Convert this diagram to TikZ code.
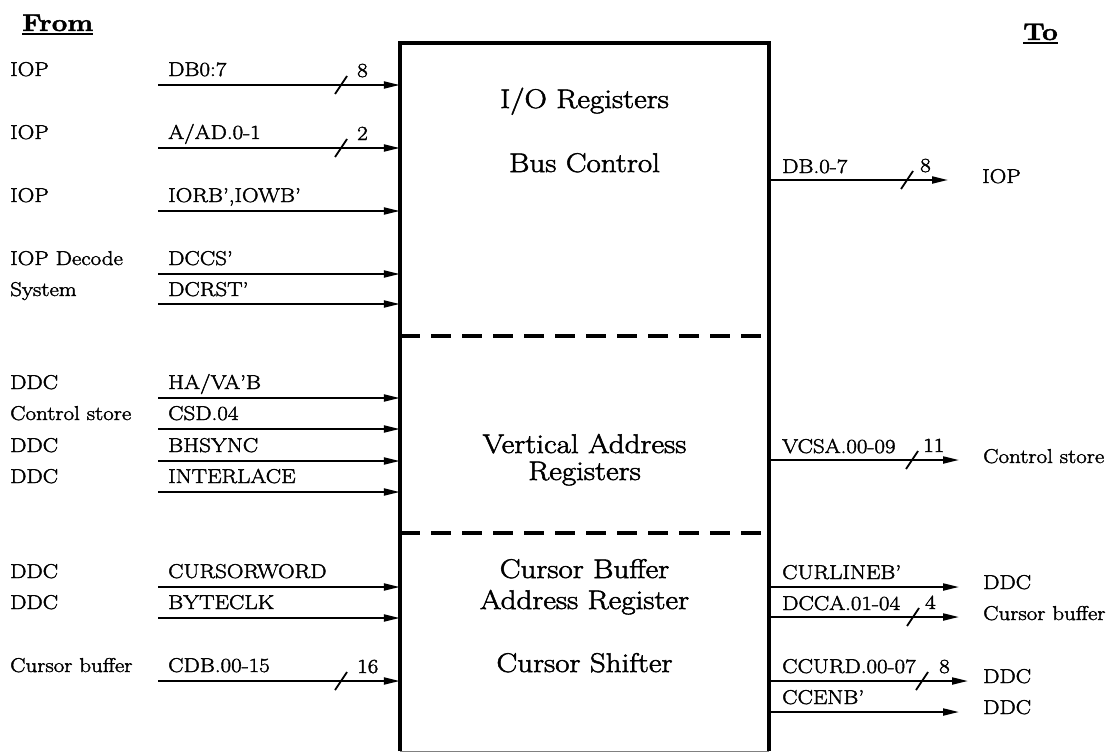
\documentclass[tikz,border=0pt]{standalone}
\usepackage{fontspec}
\setmainfont{Latin Modern Roman}[FakeStretch=1.15,FakeBold=2]
\usetikzlibrary{arrows.meta,calc}
\tikzset{
 lbl/.style={inner sep=0pt, anchor=base west, font=\fontsize{20}{24}\selectfont},
 hdr/.style={inner sep=0pt, anchor=base west, font=\bfseries\fontsize{24}{28}\selectfont},
 boxtxt/.style={inner sep=0pt, anchor=base, font=\fontsize{27}{31}\selectfont},
 sig/.style={line width=2pt, -{Triangle[length=16pt,width=7pt]}},
 tick/.style={line width=1.8pt},
 divider/.style={line width=4.5pt, dash pattern=on 20pt off 11pt},
 frame/.style={line width=4pt},
}
\begin{document}
\begin{tikzpicture}[x=1pt,y=-1pt]
\useasboundingbox (0,0) rectangle (1113,752);
% main block
\node[inner sep=0pt, minimum width=369pt, minimum height=708pt] (box) at (584.5,397) {};
\draw[frame] (box.south west) -- (box.north west) -- (box.north east) -- (box.south east);
\draw[gray, line width=1pt] (box.south west) -- (box.south east);
\coordinate (dv1) at (400,336);
\coordinate (dv2) at (400,533);
\draw[divider] (dv1) -- (dv1 -| box.east);
\draw[divider] (dv2) -- (dv2 -| box.east);
\node[boxtxt] (bt1) at (584.5,108) {I/O Registers};
\node[boxtxt] (bt2) at (584.5,172) {Bus Control};
\node[boxtxt] (bt3) at (584.5,453) {Vertical Address};
\node[boxtxt] (bt4) at (584.5,480) {Registers};
\node[boxtxt] (bt5) at (584.5,578) {Cursor Buffer};
\node[boxtxt] (bt6) at (584.5,609) {Address Register};
\node[boxtxt] (bt7) at (584.5,672) {Cursor Shifter};
% headers
\node[hdr] (from) at (22,31) {From};
\draw[line width=2pt] ($(from.base west)+(0,3)$) -- ($(from.base east)+(0,3)$);
\node[hdr] (to) at (1023,40) {To};
\draw[line width=2pt] ($(to.base west)+(0,3)$) -- ($(to.base east)+(0,3)$);
% ---- inputs ----
\node[lbl] (s1) at (10,76) {IOP};
\node[lbl] (l1) at (168,76) {DB0:7};
\coordinate (a1) at (158,85);
\draw[sig] (a1) -- (a1 -| box.west);
\coordinate (k1) at (341,85);
\draw[tick] ($(k1)+(-6,9)$) -- ($(k1)+(6,-9)$);
\node[lbl] (n1) at ($(k1)+(16,-8)$) {8};

\node[lbl] (s2) at (10,139) {IOP};
\node[lbl] (l2) at (168,139) {A/AD.0-1};
\coordinate (a2) at (158,148);
\draw[sig] (a2) -- (a2 -| box.west);
\coordinate (k2) at (341,148);
\draw[tick] ($(k2)+(-6,9)$) -- ($(k2)+(6,-9)$);
\node[lbl] (n2) at ($(k2)+(16,-8)$) {2};

\node[lbl] (s3) at (10,202) {IOP};
\node[lbl] (l3) at (168,202) {IORB',IOWB'};
\coordinate (a3) at (158,211);
\draw[sig] (a3) -- (a3 -| box.west);

\node[lbl] (s4) at (10,265) {IOP Decode};
\node[lbl] (l4) at (168,265) {DCCS'};
\coordinate (a4) at (158,274);
\draw[sig] (a4) -- (a4 -| box.west);

\node[lbl] (s5) at (10,296) {System};
\node[lbl] (l5) at (168,296) {DCRST'};
\coordinate (a5) at (158,304);
\draw[sig] (a5) -- (a5 -| box.west);

\node[lbl] (s6) at (10,389) {DDC};
\node[lbl] (l6) at (168,389) {HA/VA'B};
\coordinate (a6) at (158,398);
\draw[sig] (a6) -- (a6 -| box.west);

\node[lbl] (s7) at (10,420) {Control store};
\node[lbl] (l7) at (168,420) {CSD.04};
\coordinate (a7) at (158,429);
\draw[sig] (a7) -- (a7 -| box.west);

\node[lbl] (s8) at (10,452) {DDC};
\node[lbl] (l8) at (168,452) {BHSYNC};
\coordinate (a8) at (158,461);
\draw[sig] (a8) -- (a8 -| box.west);

\node[lbl] (s9) at (10,483) {DDC};
\node[lbl] (l9) at (168,483) {INTERLACE};
\coordinate (a9) at (158,492);
\draw[sig] (a9) -- (a9 -| box.west);

\node[lbl] (s10) at (10,578) {DDC};
\node[lbl] (l10) at (168,578) {CURSORWORD};
\coordinate (a10) at (158,587);
\draw[sig] (a10) -- (a10 -| box.west);

\node[lbl] (s11) at (10,609) {DDC};
\node[lbl] (l11) at (168,609) {BYTECLK};
\coordinate (a11) at (158,618);
\draw[sig] (a11) -- (a11 -| box.west);

\node[lbl] (s12) at (10,672) {Cursor buffer};
\node[lbl] (l12) at (168,672) {CDB.00-15};
\coordinate (a12) at (158,681);
\draw[sig] (a12) -- (a12 -| box.west);
\coordinate (k12) at (341,681);
\draw[tick] ($(k12)+(-6,9)$) -- ($(k12)+(6,-9)$);
\node[lbl] (n12) at ($(k12)+(16,-8)$) {16};
% ---- outputs ----
\coordinate (r1) at (948,180);
\draw[sig] (r1 -| box.east) -- (r1);
\node[lbl] (m1) at (782,173) {DB.0-7};
\node[lbl] (d1) at (982,183) {IOP};
\coordinate (q1) at (907,180);
\draw[tick] ($(q1)+(-6,9)$) -- ($(q1)+(6,-9)$);
\node[lbl] (p1) at ($(q1)+(13,-8)$) {8};

\coordinate (r2) at (959,460);
\draw[sig] (r2 -| box.east) -- (r2);
\node[lbl] (m2) at (782,453) {VCSA.00-09};
\node[lbl] (d2) at (983,463) {Control store};
\coordinate (q2) at (912,460);
\draw[tick] ($(q2)+(-6,9)$) -- ($(q2)+(6,-9)$);
\node[lbl] (p2) at ($(q2)+(11,-8)$) {11};

\coordinate (r3) at (959,587);
\draw[sig] (r3 -| box.east) -- (r3);
\node[lbl] (m3) at (782,579) {CURLINEB'};
\node[lbl] (d3) at (983,589) {DDC};

\coordinate (r4) at (959,617);
\draw[sig] (r4 -| box.east) -- (r4);
\node[lbl] (m4) at (782,610) {DCCA.01-04};
\node[lbl] (d4) at (983,620) {Cursor buffer};
\coordinate (q4) at (913,617);
\draw[tick] ($(q4)+(-6,9)$) -- ($(q4)+(6,-9)$);
\node[lbl] (p4) at ($(q4)+(12,-8)$) {4};

\coordinate (r5) at (968,681);
\draw[sig] (r5 -| box.east) -- (r5);
\node[lbl] (m5) at (782,673) {CCURD.00-07};
\node[lbl] (d5) at (983,683) {DDC};
\coordinate (q5) at (922,681);
\draw[tick] ($(q5)+(-6,9)$) -- ($(q5)+(6,-9)$);
\node[lbl] (p5) at ($(q5)+(17,-8)$) {8};

\coordinate (r6) at (959,712);
\draw[sig] (r6 -| box.east) -- (r6);
\node[lbl] (m6) at (782,704) {CCENB'};
\node[lbl] (d6) at (983,714) {DDC};
\end{tikzpicture}
\end{document}
